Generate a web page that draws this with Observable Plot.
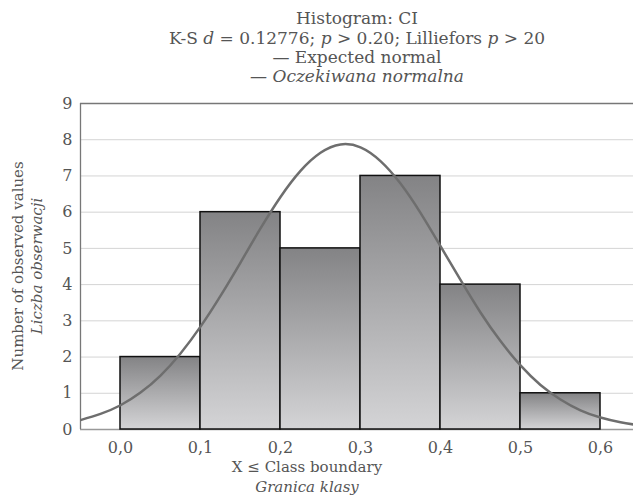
<!DOCTYPE html>
<html><head><meta charset="utf-8">
<script src="https://cdn.jsdelivr.net/npm/d3@7"></script>
<script src="https://cdn.jsdelivr.net/npm/@observablehq/plot@0.6"></script>
<style>
body{margin:0;background:#fff;}
svg{display:block;}
</style>
</head><body><div id="chart"></div>
<script>
// Histogram class boundaries and counts
const binStarts = [0.0, 0.1, 0.2, 0.3, 0.4, 0.5];
const binEnds = [0.1, 0.2, 0.3, 0.4, 0.5, 0.6];
const counts = [2, 6, 5, 7, 4, 1];
// Expected normal curve
const curveX = [-0.05,-0.025,0,0.025,0.05,0.075,0.1,0.125,0.15,0.175,0.2,0.225,0.25,0.275,0.3,0.325,0.35,0.375,0.4,0.425,0.45,0.475,0.5,0.525,0.55,0.575,0.6,0.625,0.65];
const curveY = [0.26,0.43,0.67,1.02,1.49,2.10,2.84,3.69,4.61,5.55,6.42,7.14,7.64,7.87,7.79,7.41,6.79,5.98,5.06,4.13,3.23,2.44,1.77,1.23,0.83,0.53,0.33,0.20,0.11];
const xTicks = [0,0.1,0.2,0.3,0.4,0.5,0.6];
const yTicks = [0,1,2,3,4,5,6,7,8,9];
const gridY = [1,2,3,4,5,6,7,8];

const bars = binStarts.map((s,i)=>({x1:s,x2:binEnds[i],y:counts[i]}));
const curve = curveX.map((x,i)=>({x,y:curveY[i]}));

const textColor = "#555";
const font = "DejaVu Serif";
const fs = 15;
const tfs = 17;

const svg = Plot.plot({
  width: 633, height: 497,
  marginLeft: 80, marginRight: 0, marginTop: 103, marginBottom: 68,
  style: {fontFamily: font, fontSize: "16px", color: textColor, background: "#fff"},
  x: {domain: [-0.05, 0.64125], ticks: xTicks, tickFormat: d => d3.format(".1f")(d).replace(".", ","), tickSize: 0, tickPadding: 12, label: null},
  y: {type: "linear", domain: [0, 9], ticks: yTicks, tickSize: 0, tickPadding: 8, label: null},
  marks: [
    Plot.ruleY(gridY, {stroke: "#d4d4d4", strokeWidth: 1}),
    Plot.ruleY([9], {stroke: "#777", strokeWidth: 1.3}),
    Plot.ruleY([0], {stroke: "#999", strokeWidth: 1.3}),
    Plot.ruleX([-0.05], {stroke: "#777", strokeWidth: 1.3}),
    Plot.ruleX(xTicks, {x: d => d, y1: 9, y2: 9, stroke: "#777", strokeWidth: 1.3, ariaLabel: "topticks"}),
    Plot.ruleY(gridY, {x1: -0.05, x2: -0.05, stroke: "#777", strokeWidth: 1.3, ariaLabel: "leftticks"}),
    Plot.rectY(bars, {x1: "x1", x2: "x2", y: "y", fill: "url(#barGrad)", stroke: "#111", strokeWidth: 1.5}),
    Plot.line(curve, {x: "x", y: "y", stroke: "#6e6e6e", strokeWidth: 2.5, curve: "natural", clip: true})
  ]
});

const s = d3.select(svg);
const defs = s.insert("defs", ":first-child");
const g = defs.append("linearGradient").attr("id","barGrad").attr("x1",0).attr("y1",0).attr("x2",0).attr("y2",1);
g.append("stop").attr("offset","0%").attr("stop-color","#838385");
g.append("stop").attr("offset","100%").attr("stop-color","#d4d4d6");

// Short ticks pointing into the frame
s.selectAll("[aria-label='topticks'] line").each(function(){
  const l = d3.select(this);
  l.attr("y2", +l.attr("y1") + 5);
});
s.selectAll("[aria-label='leftticks'] line").each(function(){
  const l = d3.select(this);
  l.attr("x2", +l.attr("x1") + 4);
});

const cx = 357;
const tt = s.append("g").attr("fill", textColor).attr("font-family", font).attr("font-size", tfs).attr("text-anchor","middle");
tt.append("text").attr("x", cx).attr("y", 24).text("Histogram: CI");
const l2 = tt.append("text").attr("x", cx).attr("y", 44);
l2.append("tspan").text("K-S ");
l2.append("tspan").attr("font-style","italic").text("d");
l2.append("tspan").text(" = 0.12776; ");
l2.append("tspan").attr("font-style","italic").text("p");
l2.append("tspan").text(" > 0.20; Lilliefors ");
l2.append("tspan").attr("font-style","italic").text("p");
l2.append("tspan").text(" > 20");
tt.append("text").attr("x", cx).attr("y", 63).text("— Expected normal");
tt.append("text").attr("x", cx).attr("y", 82).attr("font-style","italic").text("— Oczekiwana normalna");

const t = s.append("g").attr("fill", textColor).attr("font-family", font).attr("font-size", fs).attr("text-anchor","middle");
t.append("text").attr("x", 307).attr("y", 472).text("X ≤ Class boundary");
t.append("text").attr("x", 307).attr("y", 492).attr("font-style","italic").text("Granica klasy");
t.append("text").attr("transform","translate(23,266) rotate(-90)").text("Number of observed values");
t.append("text").attr("transform","translate(42,266) rotate(-90)").attr("font-style","italic").text("Liczba obserwacji");

document.getElementById("chart").appendChild(svg);
</script>
</body></html>
